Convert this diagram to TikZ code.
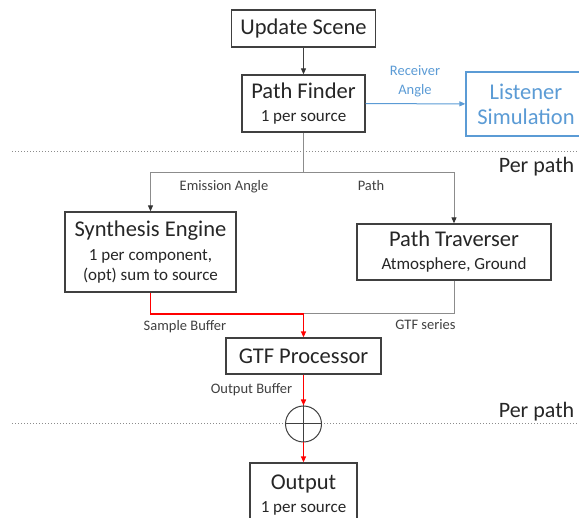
\documentclass[tikz,border=0pt]{standalone}
\usepackage{fontspec}
\setmainfont{Carlito}
\usepackage{tikz}
\usetikzlibrary{
    calc,
    arrows.meta
}
\definecolor{boxgray}{HTML}{404040}
\definecolor{linegray}{HTML}{8C8C8C}
\definecolor{listblue}{HTML}{5B9BD5}
\definecolor{buffred}{HTML}{FF0000}
\newcommand{\titlefs}{\fontsize{22.5}{25}\selectfont}
\newcommand{\subfs}{\fontsize{17}{20}\selectfont}

\begin{document}
\begin{tikzpicture}[x=1pt,y=-1pt,
    block/.style={draw=boxgray,line width=1.3pt,fill=white,align=center,
        inner sep=0pt,text=black!85,font=\subfs},
    big/.style={font=\titlefs},
    lbl/.style={font=\fontsize{14.5}{18.5}\selectfont,text=boxgray},
    conn/.style={draw=linegray,line width=1pt},
    tip/.style={-{Triangle[length=6pt,width=5pt,color=black!80]}},
    redconn/.style={draw=buffred,line width=1.4pt},
    redtip/.style={-{Triangle[length=6pt,width=5pt]}},
    sep/.style={draw=linegray,line width=1pt,dotted}]
\useasboundingbox (0,0) rectangle (579,518);
%\draw [help lines,step=50](0,0) grid (579,518);
\draw [sep] (12,152) -- (579,152);
\draw [sep] (12,424) -- (579,424);
\node [block,minimum width=144,minimum height=37,big] (Update) at (303.5,28.5) {Update Scene};
\node [block,minimum width=123,minimum height=57] (Finder) at (303.5,103.5)
    {{\titlefs Path Finder}\\[3pt]1 per source};
\node [block,draw=listblue,text=listblue,minimum width=120,minimum height=64,
    big] (Listener) at (526,104) {Listener\\Simulation};
\node [block,minimum width=171,minimum height=80] (Synth) at (150.5,252)
    {{\titlefs Synthesis Engine}\\[4pt]1 per component,\\(opt) sum to source};
\node [block,minimum width=194,minimum height=56] (Traverser) at (454,252)
    {{\titlefs Path Traverser}\\[3pt]Atmosphere,\ Ground};
\node [block,minimum width=155,minimum height=36,big] (GTF) at (303.5,356) {GTF Processor};
\node [draw=boxgray,line width=1pt,circle,fill=white,minimum size=36,inner sep=0pt] (Sum) at (303.5,424) {};
\draw [boxgray,line width=1pt] (Sum.north) -- (Sum.south);
\draw [boxgray,line width=1pt] (Sum.west) -- (Sum.east);
\node [block,minimum width=107,minimum height=64] (Output) at (303.5,495)
    {{\titlefs Output}\\[3pt]1 per source};
\coordinate (Split) at (303.5,173);
\coordinate (Merge) at (303.5,314);
% connectors
\draw [conn,draw=boxgray,tip] (Update) -- (Finder);
\draw [conn,draw=listblue,redtip] (Finder) -- (Listener);
\draw [conn] (Finder) -- (Split);
\draw [conn,tip] (Split) -| (Synth.north);
\draw [conn,tip] (Split) -| (Traverser.north);
\draw [conn] (Traverser.south) |- (Merge);
\draw [redconn] (Synth.south) |- (Merge);
\draw [redconn,redtip] (Merge) -- (GTF);
\draw [redconn,redtip] (GTF) -- (Sum);
\draw [redconn,redtip] (Sum) -- (Output);
% labels
\node [lbl,text=listblue,align=center] (RecvLbl) at (415,81.5) {Receiver\\Angle};
\node [lbl] (EmitLbl) at (224,187) {Emission Angle};
\node [lbl] (PathLbl) at (371,186) {Path};
\node [lbl] (SampLbl) at (185,327) {Sample Buffer};
\node [lbl] (SeriesLbl) at (425.5,325) {GTF series};
\node [lbl] (OutLbl) at (251.5,390) {Output Buffer};
\node [font=\fontsize{22}{25}\selectfont,text=black!85] (PerTop) at (536.5,167) {Per path};
\node [font=\fontsize{22}{25}\selectfont,text=black!85] (PerBot) at (536.5,412) {Per path};
\end{tikzpicture}
\end{document}
